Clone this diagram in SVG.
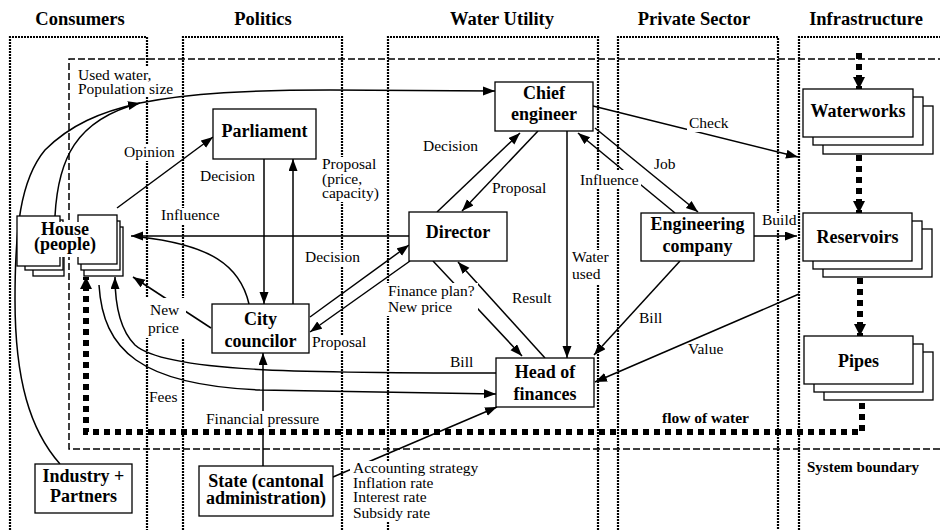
<svg xmlns="http://www.w3.org/2000/svg" width="940" height="530" viewBox="0 0 940 530" font-family="Liberation Serif, Times New Roman, DejaVu Serif, serif">
<defs>
<marker id="ar" markerUnits="userSpaceOnUse" markerWidth="13" markerHeight="10" refX="12" refY="4.5" orient="auto"><path d="M0,0 L12,4.5 L0,9 z" fill="#000"/></marker>
<marker id="far" markerUnits="userSpaceOnUse" markerWidth="13" markerHeight="13" refX="12" refY="6" orient="auto"><path d="M0,0 L12,6 L0,12 z" fill="#000"/></marker>
<style>
.frame{fill:none;stroke:#000;stroke-width:2.2;stroke-dasharray:2 1}
.boundary{fill:none;stroke:#000;stroke-width:1.5;stroke-dasharray:7 3}
.box{fill:#fff;stroke:#000;stroke-width:1.3}
.conn{fill:none;stroke:#000;stroke-width:1.5}
.arr{marker-end:url(#ar)}
.flow{fill:none;stroke:#000;stroke-width:6;stroke-dasharray:6 5}
.farr{marker-end:url(#far)}
.bg{fill:#fff}
.hdr{font-weight:bold;font-size:18.5px;text-anchor:middle}
.nt{font-weight:bold;font-size:18px;text-anchor:middle}
.lb{font-size:15.5px}
.bl{font-weight:bold;font-size:15.5px}
</style>
</defs>
<rect width="940" height="530" fill="#fff"/>

<g id="headers" font-family="Liberation Serif, DejaVu Serif, serif">
<text class="hdr" x="80" y="25">Consumers</text>
<text class="hdr" x="263" y="25">Politics</text>
<text class="hdr" x="502" y="25">Water Utility</text>
<text class="hdr" x="694" y="25">Private Sector</text>
<text class="hdr" x="866" y="25">Infrastructure</text>
</g>

<g id="frames">
<path class="frame" d="M10,530 V37 H147 V530"/>
<path class="frame" d="M183,530 V37 H342 V530"/>
<path class="frame" d="M388,530 V37 H598 V530"/>
<path class="frame" d="M618,530 V37 H778 V530"/>
<path class="frame" d="M799,530 V37 H945"/>
<path class="boundary" d="M945,59 H69 V449 H945"/>
</g>

<g id="frame-label-backgrounds">
<rect class="bg" x="76" y="66" width="101" height="30"/>
<rect class="bg" x="121" y="145" width="57" height="16"/>
<rect class="bg" x="319" y="157" width="63" height="45"/>
<rect class="bg" x="158" y="208" width="62" height="16"/>
<rect class="bg" x="303" y="250" width="59" height="16"/>
<rect class="bg" x="310" y="335" width="58" height="16"/>
<rect class="bg" x="570" y="250" width="42" height="34"/>
<rect class="bg" x="760" y="213" width="36" height="16"/>
</g>

<g id="connectors">
<path class="conn arr" d="M60,464 C30,430 15,380 15,300 C15,230 20,180 45,150 C70,125 100,112 140,103"/>
<path class="conn" d="M55,216 C58,160 75,120 140,103"/>
<path class="conn arr" d="M140,103 C190,93 250,90 330,90 L495,91"/>
<path class="conn arr" d="M117,208 L213,137"/>
<path class="conn arr" d="M264,159 L264,304"/>
<path class="conn arr" d="M293,304 L293,159"/>
<path class="conn arr" d="M409,236 L131,236"/>
<path class="conn" d="M249,304 C240,265 210,245 140,237"/>
<path class="conn arr" d="M211,328 L133,277"/>
<path class="conn arr" d="M496,373 C300,373 165,372 135,345 C120,330 115,305 115,277"/>
<path class="conn arr" d="M99,285 C103,350 140,385 260,390 L496,394"/>
<path class="conn arr" d="M310,317 L409,245"/>
<path class="conn arr" d="M410,261 L310,332"/>
<path class="conn arr" d="M437,212 L520,133"/>
<path class="conn arr" d="M538,131 L462,211"/>
<path class="conn arr" d="M567,131 L567,358"/>
<path class="conn arr" d="M433,261 L522,356"/>
<path class="conn arr" d="M545,358 L458,262"/>
<path class="conn arr" d="M593,106 L798,157"/>
<path class="conn arr" d="M595,128 L698,212"/>
<path class="conn arr" d="M675,213 L578,133"/>
<path class="conn arr" d="M754,236 L797,236"/>
<path class="conn arr" d="M680,261 L594,355"/>
<path class="conn arr" d="M799,294 L595,382"/>
<path class="conn arr" d="M263,466 L263,353"/>
<path class="conn arr" d="M333,477 L497,407"/>
<path class="flow farr" d="M859,53 V89"/>
<path class="flow farr" d="M859,155 V213"/>
<path class="flow farr" d="M860,278 V336"/>
<path class="flow farr" d="M862,403 V432 H86 V277"/>
</g>

<g id="line-label-backgrounds">
<rect class="bg" x="144" y="298" width="42" height="40"/>
<rect class="bg" x="204" y="411" width="118" height="17"/>
<rect class="bg" x="386" y="283" width="92" height="33"/>
<rect class="bg" x="687" y="116" width="40" height="16"/>
<rect class="bg" x="578" y="170" width="63" height="19"/>
<rect class="bg" x="350" y="461" width="135" height="61"/>
</g>

<g id="labels" font-family="Liberation Serif, DejaVu Serif, serif">
<text class="lb" x="78" y="80">Used water,</text>
<text class="lb" x="78" y="94">Population size</text>
<text class="lb" x="124" y="157">Opinion</text>
<text class="lb" x="200" y="181">Decision</text>
<text class="lb" x="322" y="169">Proposal</text>
<text class="lb" x="322" y="184">(price,</text>
<text class="lb" x="322" y="198">capacity)</text>
<text class="lb" x="161" y="220">Influence</text>
<text class="lb" x="305" y="262">Decision</text>
<text class="lb" x="312" y="347">Proposal</text>
<text class="lb" x="150" y="315">New</text>
<text class="lb" x="148" y="333">price</text>
<text class="lb" x="149" y="402">Fees</text>
<text class="lb" x="450" y="367">Bill</text>
<text class="lb" x="206" y="424">Financial pressure</text>
<text class="lb" x="423" y="151">Decision</text>
<text class="lb" x="492" y="193">Proposal</text>
<text class="lb" x="388" y="296">Finance plan?</text>
<text class="lb" x="388" y="312">New price</text>
<text class="lb" x="512" y="303">Result</text>
<text class="lb" x="572" y="262">Water</text>
<text class="lb" x="572" y="279">used</text>
<text class="lb" x="689" y="128">Check</text>
<text class="lb" x="654" y="169">Job</text>
<text class="lb" x="580" y="185">Influence</text>
<text class="lb" x="762" y="225">Build</text>
<text class="lb" x="639" y="323">Bill</text>
<text class="lb" x="688" y="354">Value</text>
<text class="lb" x="353" y="472.5">Accounting strategy</text>
<text class="lb" x="353" y="487.5">Inflation rate</text>
<text class="lb" x="353" y="502">Interest rate</text>
<text class="lb" x="353" y="517.5">Subsidy rate</text>
<text class="bl" x="662" y="423">flow of water</text>
<text class="bl" x="807" y="472" style="font-size:15px">System boundary</text>
</g>

<g id="nodes" font-family="Liberation Serif, DejaVu Serif, serif">
<g id="parliament">
<rect class="box" x="213" y="109" width="103" height="50"/>
<text class="nt" x="264.5" y="137">Parliament</text>
</g>
<g id="chief-engineer">
<rect class="box" x="495" y="82" width="98" height="49"/>
<text class="nt" x="544" y="99">Chief</text>
<text class="nt" x="544" y="119.5">engineer</text>
</g>
<g id="director">
<rect class="box" x="409" y="212" width="98" height="49"/>
<text class="nt" x="458" y="238">Director</text>
</g>
<g id="head-of-finances">
<rect class="box" x="496" y="358" width="98" height="49"/>
<text class="nt" x="545" y="378">Head of</text>
<text class="nt" x="545" y="399.5">finances</text>
</g>
<g id="city-councilor">
<rect class="box" x="212" y="304" width="97" height="49"/>
<text class="nt" x="260.5" y="325">City</text>
<text class="nt" x="260.5" y="346.5">councilor</text>
</g>
<g id="engineering-company">
<rect class="box" x="641" y="213" width="113" height="48"/>
<text class="nt" x="697.5" y="229.5">Engineering</text>
<text class="nt" x="697.5" y="251.5">company</text>
</g>
<g id="waterworks">
<rect class="box" x="823" y="106" width="110" height="48"/>
<rect class="box" x="813" y="97" width="110" height="48"/>
<rect class="box" x="803" y="89" width="110" height="48"/>
<text class="nt" x="858" y="117">Waterworks</text>
</g>
<g id="reservoirs">
<rect class="box" x="823" y="229" width="109" height="48"/>
<rect class="box" x="813" y="221" width="109" height="48"/>
<rect class="box" x="803" y="213" width="109" height="48"/>
<text class="nt" x="857.5" y="243">Reservoirs</text>
</g>
<g id="pipes">
<rect class="box" x="824" y="352" width="109" height="48"/>
<rect class="box" x="814" y="344" width="109" height="48"/>
<rect class="box" x="804" y="336" width="109" height="48"/>
<text class="nt" x="858.5" y="366.5">Pipes</text>
</g>
<g id="industry-partners">
<rect class="box" x="35" y="464" width="97" height="49"/>
<text class="nt" x="83.5" y="482">Industry +</text>
<text class="nt" x="83.5" y="502">Partners</text>
</g>
<g id="state">
<rect class="box" x="199" y="466" width="134" height="50"/>
<text class="nt" x="266" y="486.5">State (cantonal</text>
<text class="nt" x="266" y="504">administration)</text>
</g>
<g id="house">
<rect class="box" x="33" y="226" width="31" height="50"/>
<rect class="box" x="25" y="220" width="38" height="50"/>
<rect class="box" x="17" y="216" width="43" height="50"/>
<rect class="box" x="84" y="227" width="39" height="49"/>
<rect class="box" x="81" y="221" width="39" height="49"/>
<rect class="box" x="78" y="215" width="39" height="49"/>
<rect class="bg" x="32" y="222" width="66" height="35"/>
<text class="nt" x="65" y="235">House</text>
<text class="nt" x="65" y="250">(people)</text>
</g>
</g>
</svg>
